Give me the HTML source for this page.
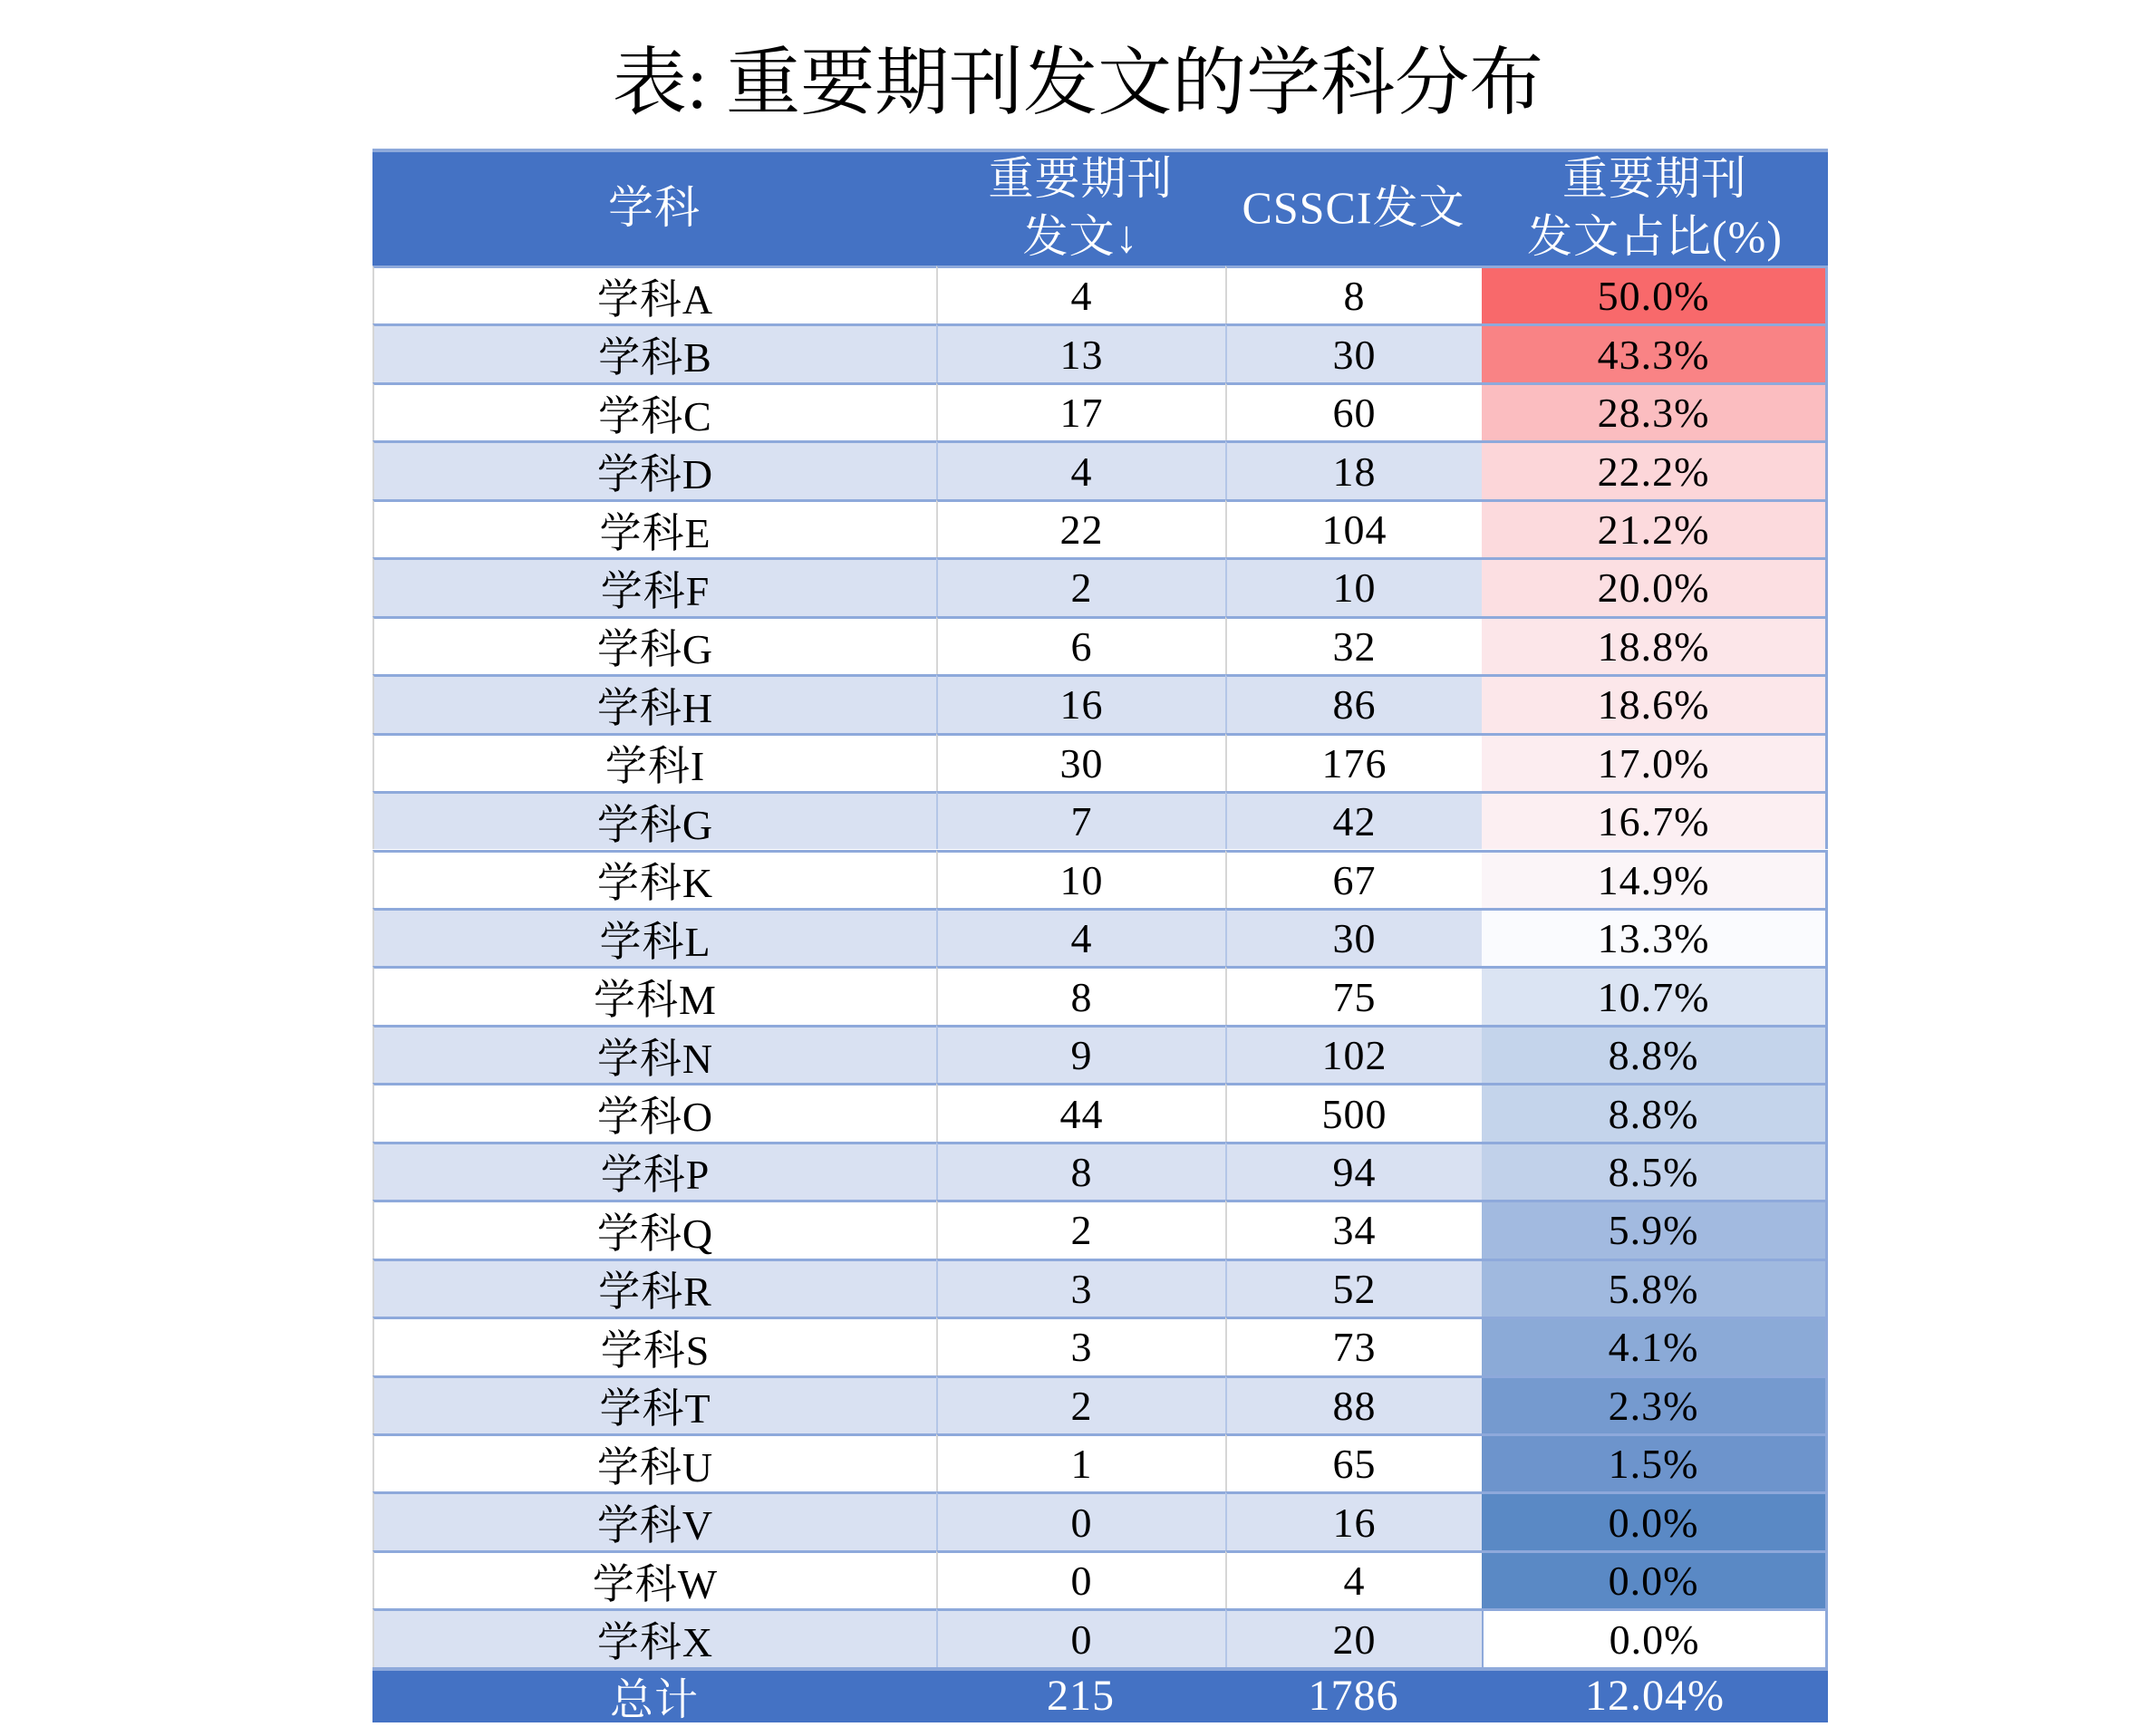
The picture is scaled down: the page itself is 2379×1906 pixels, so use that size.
<!DOCTYPE html>
<html><head><meta charset="utf-8"><style>
html,body{margin:0;padding:0;background:#fff;}
body{width:2379px;height:1901px;position:relative;overflow:hidden;font-family:"Liberation Serif","Noto Serif CJK SC",serif;}
#title{position:absolute;left:0;width:2379px;top:42px;text-align:center;font-size:82px;line-height:100px;color:#000;font-family:"Liberation Serif","Noto Serif CJK SC",serif;}
.cell{position:absolute;box-sizing:border-box;display:flex;align-items:center;justify-content:center;font-size:46px;color:#000;white-space:nowrap;letter-spacing:1px;}
.hd{color:#fff;font-size:50px;text-align:center;line-height:64px;flex-direction:column;}
</style></head><body>
<div id="title">表: 重要期刊发文的学科分布</div>
<div id="tbl"></div>
<script>
const subjects=["学科A","学科B","学科C","学科D","学科E","学科F","学科G","学科H","学科I","学科G","学科K","学科L","学科M","学科N","学科O","学科P","学科Q","学科R","学科S","学科T","学科U","学科V","学科W","学科X"];
const important=[4,13,17,4,22,2,6,16,30,7,10,4,8,9,44,8,2,3,3,2,1,0,0,0];
const cssci=[8,30,60,18,104,10,32,86,176,42,67,30,75,102,500,94,34,52,73,88,65,16,4,20];
const pct=["50.0%","43.3%","28.3%","22.2%","21.2%","20.0%","18.8%","18.6%","17.0%","16.7%","14.9%","13.3%","10.7%","8.8%","8.8%","8.5%","5.9%","5.8%","4.1%","2.3%","1.5%","0.0%","0.0%","0.0%"];
const pctColors=["#F8696B","#F98385","#FBBDC0","#FCD6D9","#FCDADD","#FCDFE2","#FCE6E9","#FCE7EA","#FCEDF0","#FCEFF2","#FBF5F8","#FAFBFE","#DBE4F3","#C4D4EB","#C4D4EB","#C1D1EA","#A2BAE0","#A0B9DF","#8BAAD7","#759ACF","#6D94CC","#5A89C5","#5A89C5","#FFFFFF"];
const totals=["总计","215","1786","12.04%"];

const X=[411,1033,1352,1635,2017];
const top0=293,rowH=64.45,hdTop=164;
const tbl=document.getElementById('tbl');
function mk(x,y,w,h,bg,txt,cls){
  const d=document.createElement('div');
  d.className='cell'+(cls?' '+cls:'');
  d.style.left=x+'px';d.style.top=y+'px';d.style.width=w+'px';d.style.height=h+'px';
  d.style.background=bg;d.innerHTML=txt;tbl.appendChild(d);return d;
}
// header
const hb=mk(X[0],hdTop,X[4]-X[0],top0-hdTop,"#4472C4","");


hb.style.borderTop="4px solid #8EA9DB";
const heads=["学科","重要期刊<br>发文↓","CSSCI发文","重要期刊<br>发文占比(%)"];
const hnames=["header-subject","header-important-sort","header-cssci","header-ratio"];
for(let c=0;c<4;c++){
  const h=mk(X[c],hdTop,X[c+1]-X[c],top0-hdTop,"transparent",heads[c],"hd");
  
  
}
for(let i=0;i<subjects.length;i++){
  const y=top0+i*rowH;
  const bg=i%2?"#D9E1F2":"#FFFFFF";
  const vals=[subjects[i],important[i],cssci[i],pct[i]];
  const names=['subject-cell','important-cell','cssci-cell','ratio-cell'];
  for(let c=0;c<4;c++){
    const d=mk(X[c],y,X[c+1]-X[c],rowH,c==3?pctColors[i]:bg,vals[c]);
    
    
    d.style.borderTop="3px solid #8EA9DB";
    if(c>0&&c<3)d.style.borderLeft=(i%2?"2px solid #B4C6E7":"2px solid #D6D6D6");
    if(c==3)d.style.borderLeft=(i==23?"2px solid #8EA9DB":"none");
    if(c==0)d.style.borderLeft="2px solid #D6D6D6";
    if(c==3)d.style.borderRight="3px solid #8EA9DB";
  }
}
const ty=top0+subjects.length*rowH;
const tr=mk(X[0],ty,X[4]-X[0],1901-ty,"#4472C4","");


tr.style.borderTop="4px solid #8EA9DB";
for(let c=0;c<4;c++){
  const d=mk(X[c],ty+2,X[c+1]-X[c],1901-ty-2,"transparent",totals[c]);
  d.style.color="#fff";d.style.fontSize="48px";
  
  
}
</script>
</body></html>
